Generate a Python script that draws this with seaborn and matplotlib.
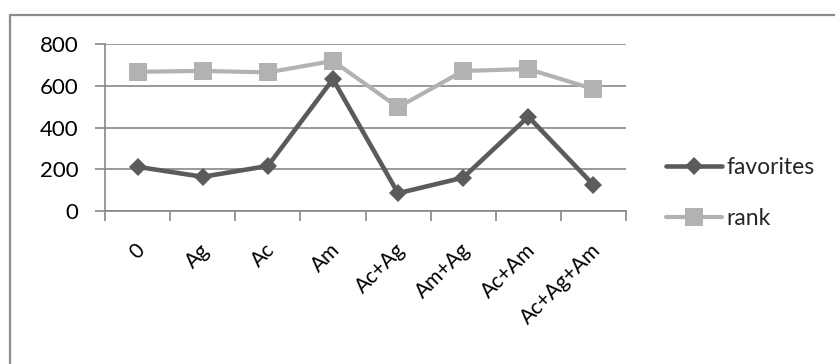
import matplotlib
matplotlib.use("Agg")
import matplotlib.pyplot as plt
from matplotlib.lines import Line2D
from matplotlib.ticker import FixedLocator
from matplotlib.transforms import ScaledTranslation
import pandas as pd
import seaborn as sns

categories = ["0", "Ag", "Ac", "Am", "Ac+Ag", "Am+Ag", "Ac+Am", "Ac+Ag+Am"]
favorites = [211, 163, 215, 632, 84, 159, 452, 124]
rank = [668, 672, 665, 720, 497, 672, 681, 585]
yticks = [0, 200, 400, 600, 800]

FAV_COLOR = "#5b5b5b"
RANK_COLOR = "#b2b2b2"
GRID_COLOR = "#878787"

sns.set_theme(style="white")
plt.rcParams["font.family"] = ["Lato", "DejaVu Sans"]

df = pd.DataFrame({"category": categories, "favorites": favorites, "rank": rank})
long = df.melt(id_vars="category", var_name="series", value_name="value")

fig = plt.figure(figsize=(8.35, 3.64), dpi=100)
ax = fig.add_axes([105 / 835, 1 - 210.7 / 364, (626 - 105) / 835, (210.7 - 44.3) / 364])

sns.lineplot(
    data=long, x="category", y="value", hue="series", style="series",
    palette={"favorites": FAV_COLOR, "rank": RANK_COLOR},
    markers={"favorites": "D", "rank": "s"}, dashes=False,
    markersize=9, linewidth=3.3, markeredgewidth=0, sort=False,
    legend=False, ax=ax, zorder=3,
)
# larger square markers and a slightly thinner line for rank
for line in ax.lines:
    if line.get_color() == RANK_COLOR:
        line.set_markersize(13.5)
        line.set_linewidth(3.0)

ax.set_xlim(-0.5, len(categories) - 0.5)
ax.set_ylim(0, 800)
ax.set_yticks(yticks)
ax.set_xlabel("")
ax.set_ylabel("")
ax.yaxis.grid(True, color=GRID_COLOR, linewidth=1.2)
ax.set_axisbelow(True)

for side in ["top", "right"]:
    ax.spines[side].set_visible(False)
for side in ["left", "bottom"]:
    ax.spines[side].set_color(GRID_COLOR)
    ax.spines[side].set_linewidth(1.2)

ax.tick_params(axis="y", which="major", length=7, width=1.2, color=GRID_COLOR,
               direction="out", labelsize=16, pad=12, left=True)
ax.tick_params(axis="x", which="major", length=0, labelsize=15, pad=21)
ax.xaxis.set_minor_locator(FixedLocator([i - 0.5 for i in range(len(categories) + 1)]))
ax.tick_params(axis="x", which="minor", length=7, width=1.2, color=GRID_COLOR,
               direction="out", bottom=True)
shift = ScaledTranslation(-3 / 100, 0, fig.dpi_scale_trans)
for lab in ax.get_xticklabels():
    lab.set_rotation(45)
    lab.set_ha("right")
    lab.set_va("top")
    lab.set_rotation_mode("anchor")
    lab.set_color("black")
    lab.set_transform(lab.get_transform() + shift)
for lab in ax.get_yticklabels():
    lab.set_color("black")

handles = [
    Line2D([], [], color=FAV_COLOR, lw=3.3, marker="D", markersize=9, markeredgewidth=0),
    Line2D([], [], color=RANK_COLOR, lw=3.0, marker="s", markersize=13.5, markeredgewidth=0),
]
fig.legend(handles, ["favorites", "rank"], loc="upper left",
           bbox_to_anchor=(666 / 835, 1 - 157 / 364), frameon=False,
           fontsize=16.5, handlelength=2.45, handletextpad=0.2, labelspacing=1.3,
           borderaxespad=0, borderpad=0)

# chart frame (top and left edges)
fig.add_artist(Line2D([10 / 835, 10 / 835], [0, 1 - 15 / 364], color="#8c8c8c", lw=1.6,
                      transform=fig.transFigure))
fig.add_artist(Line2D([10 / 835, 1], [1 - 15 / 364, 1 - 15 / 364], color="#8c8c8c", lw=1.6,
                      transform=fig.transFigure))

fig.savefig("out.png", dpi=100)
